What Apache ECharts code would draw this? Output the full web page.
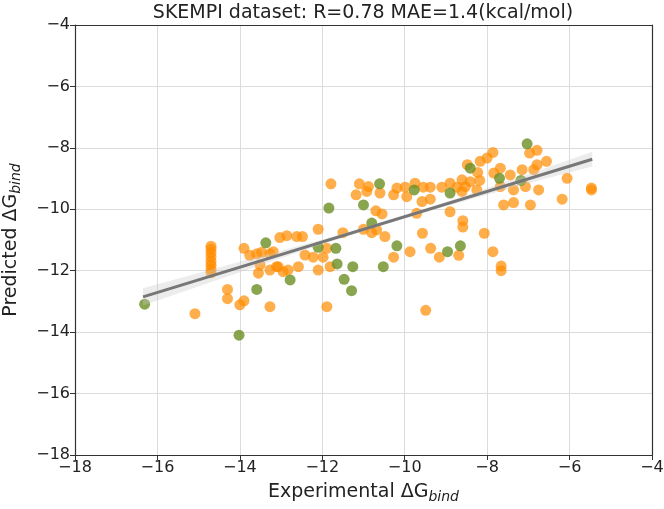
<!DOCTYPE html>
<html lang="en">
<head>
    <meta charset="UTF-8">
    <title>SKEMPI</title>
    <script src="https://cdn.jsdelivr.net/npm/echarts@6/dist/echarts.min.js"></script>
    <style>
        html, body { margin: 0; padding: 0; background: #fff; }
    </style>
</head>
<body>
    <div id="main" style="width: 664px;height:509px;"></div>
</body>

<script>
    // 数据：实验值 / 预测值
    var orangePts = [
        [-15.09, -13.40],
        [-14.70, -11.20], [-14.70, -11.30], [-14.70, -11.42], [-14.70, -11.55],
        [-14.70, -11.70], [-14.70, -11.82], [-14.70, -11.95], [-14.70, -12.07],
        [-14.30, -12.61], [-14.30, -12.91], [-13.90, -12.98], [-14.00, -13.11],
        [-13.90, -11.27], [-13.76, -11.50], [-13.59, -11.45], [-13.47, -11.40],
        [-13.27, -11.45], [-13.19, -11.38], [-13.51, -11.81], [-13.27, -11.98],
        [-13.11, -11.87], [-12.95, -12.03], [-13.55, -12.08], [-12.58, -11.87],
        [-12.42, -11.49], [-12.83, -11.98], [-13.07, -11.87],
        [-13.03, -10.92], [-12.86, -10.86], [-12.62, -10.89], [-12.48, -10.89],
        [-13.27, -13.17], [-12.22, -11.56], [-11.98, -11.56], [-12.10, -10.65],
        [-11.89, -11.27], [-11.81, -11.87], [-12.10, -11.98], [-11.89, -13.17],
        [-11.79, -9.17], [-11.10, -9.17], [-10.88, -9.26], [-10.92, -9.42],
        [-11.18, -9.53], [-10.60, -9.47], [-10.27, -9.53], [-10.19, -9.31],
        [-10.70, -10.05], [-10.55, -10.15],
        [-11.50, -10.76], [-11.00, -10.65], [-10.80, -10.76], [-10.68, -10.67], [-10.48, -10.89],
        [-10.27, -11.56],
        [-9.99, -9.28], [-9.75, -9.15], [-9.55, -9.28], [-9.38, -9.28], [-9.10, -9.28], [-8.90, -9.15],
        [-9.95, -9.59], [-9.58, -9.75], [-9.38, -9.67], [-9.71, -10.13], [-8.90, -10.08],
        [-8.59, -10.37], [-8.59, -10.58], [-9.57, -10.78], [-8.07, -10.78],
        [-9.87, -11.38], [-9.37, -11.27], [-9.16, -11.56], [-8.69, -11.50], [-7.86, -11.38],
        [-7.66, -11.85], [-7.66, -12.00], [-9.49, -13.29],
        [-8.61, -9.04], [-8.41, -9.10], [-8.53, -9.26], [-8.73, -9.28], [-8.25, -9.37],
        [-8.61, -9.42], [-8.18, -9.06],
        [-8.48, -8.55], [-8.23, -8.80], [-8.17, -8.44], [-8.00, -8.33], [-7.86, -8.15],
        [-6.97, -8.17], [-6.79, -8.08],
        [-7.68, -8.66], [-7.84, -8.82], [-7.44, -8.88], [-7.15, -8.71], [-6.79, -8.55],
        [-6.56, -8.44], [-6.87, -8.71],
        [-7.68, -9.26], [-7.36, -9.37], [-7.07, -9.26], [-6.75, -9.37],
        [-7.60, -9.86], [-7.36, -9.78], [-6.95, -9.86],
        [-6.06, -8.99], [-5.47, -9.31], [-5.47, -9.37], [-6.18, -9.67]
    ];
    var greenPts = [
        [-16.31, -13.09], [-14.02, -14.10], [-13.59, -12.61], [-13.37, -11.09],
        [-12.78, -12.30], [-12.10, -11.24], [-11.67, -11.27], [-11.64, -11.78],
        [-11.26, -11.87], [-11.47, -12.28], [-11.29, -12.65], [-11.84, -9.96],
        [-11.00, -9.86], [-10.61, -9.17], [-10.80, -10.45], [-10.52, -11.87],
        [-10.19, -11.19], [-9.77, -9.37], [-8.96, -11.38], [-8.65, -11.19],
        [-8.90, -9.47], [-8.41, -8.66], [-7.70, -8.99], [-7.18, -9.06], [-7.03, -7.87]
    ];
    // 回归线及置信带
    var fitX = [-16.35, -5.45];
    var fitY = [-12.85, -8.37];
    var bandX = [-16.35, -14, -12, -10.5, -9, -7, -5.45];
    var bandLo = [-13.13, -12.05, -11.14, -10.50, -9.90, -9.15, -8.61];
    var bandHi = [-12.57, -11.71, -10.98, -10.39, -9.76, -8.86, -8.13];
    var axisTicks = [-18, -16, -14, -12, -10, -8, -6, -4];

    var font = 'DejaVu Sans';
    var myChart = echarts.init(document.getElementById('main'));

    var bandPoly = [];
    bandX.forEach(function(x, i){ bandPoly.push([x, bandHi[i]]); });
    for (var i = bandX.length - 1; i >= 0; i--) { bandPoly.push([bandX[i], bandLo[i]]); }

    function axisOf(nameText) {
        return {
            type: 'value',
            min: axisTicks[0],
            max: axisTicks[axisTicks.length - 1],
            interval: 2,
            name: nameText,
            nameLocation: 'middle',
            nameTextStyle: {
                fontFamily: font, fontSize: 19, color: '#222',
                rich: {
                    sub: { fontFamily: font, fontSize: 14, fontStyle: 'italic', color: '#222',
                           verticalAlign: 'bottom', padding: [9, 0, 0, 0] }
                }
            },
            axisLine: { show: true, onZero: false, lineStyle: { color: '#333', width: 1.2 } },
            axisTick: { show: true, length: 5, lineStyle: { color: '#333' } },
            axisLabel: {
                fontFamily: font, fontSize: 16, color: '#222', margin: 5,
                formatter: function(v){ return String(v).replace('-', '\u2212'); }
            },
            splitLine: { show: true, showMaxLine: false, showMinLine: false,
                         lineStyle: { color: '#dcdcdc', width: 1 } }
        };
    }

    // 上、右两条边框
    function frameAxis(pos) {
        return {
            type: 'value', position: pos,
            min: axisTicks[0], max: axisTicks[axisTicks.length - 1], interval: 2,
            axisLine: { show: true, onZero: false, lineStyle: { color: '#333', width: 1.2 } },
            axisTick: { show: false }, axisLabel: { show: false }, splitLine: { show: false }
        };
    }

    var xAx = axisOf('Experimental \u0394G{sub|bind}');
    xAx.nameGap = 26;
    var yAx = axisOf('Predicted \u0394G{sub|bind}');
    yAx.nameGap = 52;
    yAx.nameRotate = 90;

    var option = {
        animation: false,
        backgroundColor: '#fff',
        title: {
            text: 'SKEMPI dataset: R=0.78 MAE=1.4(kcal/mol)',
            left: 358, textAlign: 'center', top: -1,
            textStyle: { fontFamily: font, fontSize: 19, fontWeight: 'normal', color: '#222' }
        },
        grid: { left: 75, right: 12, top: 25, bottom: 54, outerBoundsMode: 'none', containLabel: false },
        xAxis: [xAx, frameAxis('top')],
        yAxis: [yAx, frameAxis('right')],
        series: [
            {
                name: 'orange', type: 'scatter', data: orangePts, symbolSize: 11,
                itemStyle: { color: '#ff8c00', opacity: 0.7 }, z: 2
            },
            {
                name: 'green', type: 'scatter', data: greenPts, symbolSize: 11,
                itemStyle: { color: '#6b8e23', opacity: 0.8 }, z: 3
            },
            {
                name: 'band', type: 'custom', z: 4,
                data: [0],
                renderItem: function(params, api){
                    var pts = bandPoly.map(function(p){ return api.coord(p); });
                    return {
                        type: 'polygon',
                        shape: { points: pts },
                        style: { fill: 'rgba(200,200,200,0.35)' }
                    };
                }
            },
            {
                name: 'fit', type: 'line', z: 5,
                data: [[fitX[0], fitY[0]], [fitX[1], fitY[1]]],
                symbol: 'none',
                lineStyle: { color: '#777', width: 3 }
            }
        ]
    };
    myChart.setOption(option);
</script>
</html>
